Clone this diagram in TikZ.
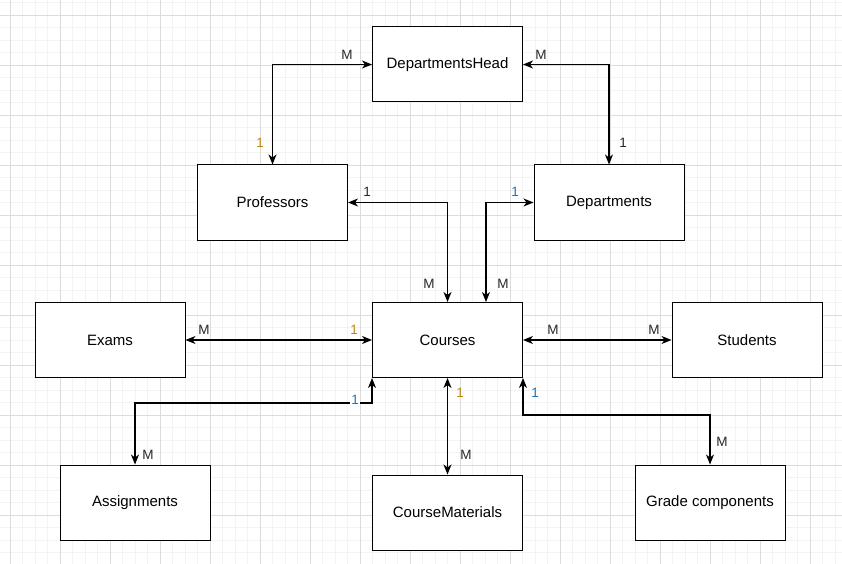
\documentclass[tikz,border=0pt]{standalone}
\usepackage{fontspec}
\setmainfont{Liberation Sans}
\usetikzlibrary{positioning}
\usetikzlibrary{arrows.meta}

\definecolor{gridminor}{RGB}{243,243,243}
\definecolor{gridmajor}{RGB}{220,220,220}
\definecolor{oneorange}{RGB}{190,135,20}
\definecolor{oneblue}{RGB}{30,115,185}
\definecolor{labelgray}{RGB}{40,40,40}

\tikzset{
    entity/.style={draw, line width=1pt, fill=white, minimum width=150pt, minimum height=75pt, font=\fontsize{15}{17}\selectfont},
    rel/.style={line width=1.4pt, {Stealth[length=10pt,width=8pt,inset=3pt]}-{Stealth[length=10pt,width=8pt,inset=3pt]}},
    card/.style={font=\fontsize{13.5}{15}\selectfont, text=labelgray, inner sep=1pt}
}

\begin{document}
\begin{tikzpicture}[x=1pt, y=-1pt]
    \useasboundingbox (0,0) rectangle (842,564);
    \fill[white] (0,0) rectangle (842,564);
    % grid
    \foreach \gx in {-2.5,10,...,845} \draw[gridminor, line width=0.8pt] (\gx,0) -- (\gx,564);
    \foreach \gy in {2.5,15,...,566} \draw[gridminor, line width=0.8pt] (0,\gy) -- (842,\gy);
    \foreach \gx in {10,60,...,842} \draw[gridmajor, line width=0.8pt] (\gx,0) -- (\gx,564);
    \foreach \gy in {15,65,...,564} \draw[gridmajor, line width=0.8pt] (0,\gy) -- (842,\gy);

    % entities
    \node[entity] (dhead) at (447.5,64.5) {DepartmentsHead};
    \node[entity] (prof) at (272.5,202.5) {Professors};
    \node[entity] (dept) at (609,202.5) {Departments};
    \node[entity] (exams) at (110,340) {Exams};
    \node[entity] (courses) at (447.5,340) {Courses};
    \node[entity] (students) at (747,340) {Students};
    \node[entity] (assign) at (135,502.5) {Assignments};
    \node[entity] (material) at (447.5,512.5) {CourseMaterials};
    \node[entity] (grade) at (710,502.5) {Grade components};

    % relations
    \draw[rel] (dhead.west) -| (prof.north);
    \draw[rel] (dhead.east) -| (dept.north);
    \draw[rel] (prof.east) -| (courses.north);
    \draw[rel] (dept.west) -| ([xshift=38.5pt]courses.north);
    \draw[rel] (exams.east) -- (courses.west);
    \draw[rel] (courses.east) -- (students.west);
    \draw[rel] (courses.south west) -- ++(0,25) -| (assign.north);
    \draw[rel] (courses.south) -- (material.north);
    \draw[rel] (courses.south east) -- ++(0,37) -| (grade.north);

    % cardinalities
    \node[card] (c1) at (347,55) {M};
    \node[card, text=oneorange] (c2) at (260,143) {1};
    \node[card] (c3) at (541,55) {M};
    \node[card] (c4) at (623,143) {1};
    \node[card] (c5) at (367,192) {1};
    \node[card] (c6) at (429,284) {M};
    \node[card, text=oneblue] (c7) at (515,192) {1};
    \node[card] (c8) at (503,284) {M};
    \node[card] (c9) at (204,330) {M};
    \node[card, text=oneorange] (c10) at (354,330) {1};
    \node[card] (c11) at (553,330) {M};
    \node[card] (c12) at (654,330) {M};
    \node[card, text=oneblue, fill=white] (c13) at (355,400) {1};
    \node[card] (c14) at (148,455) {M};
    \node[card, text=oneorange] (c15) at (460,393) {1};
    \node[card] (c16) at (466,455) {M};
    \node[card, text=oneblue] (c17) at (535,393) {1};
    \node[card] (c18) at (722,442) {M};
\end{tikzpicture}
\end{document}
